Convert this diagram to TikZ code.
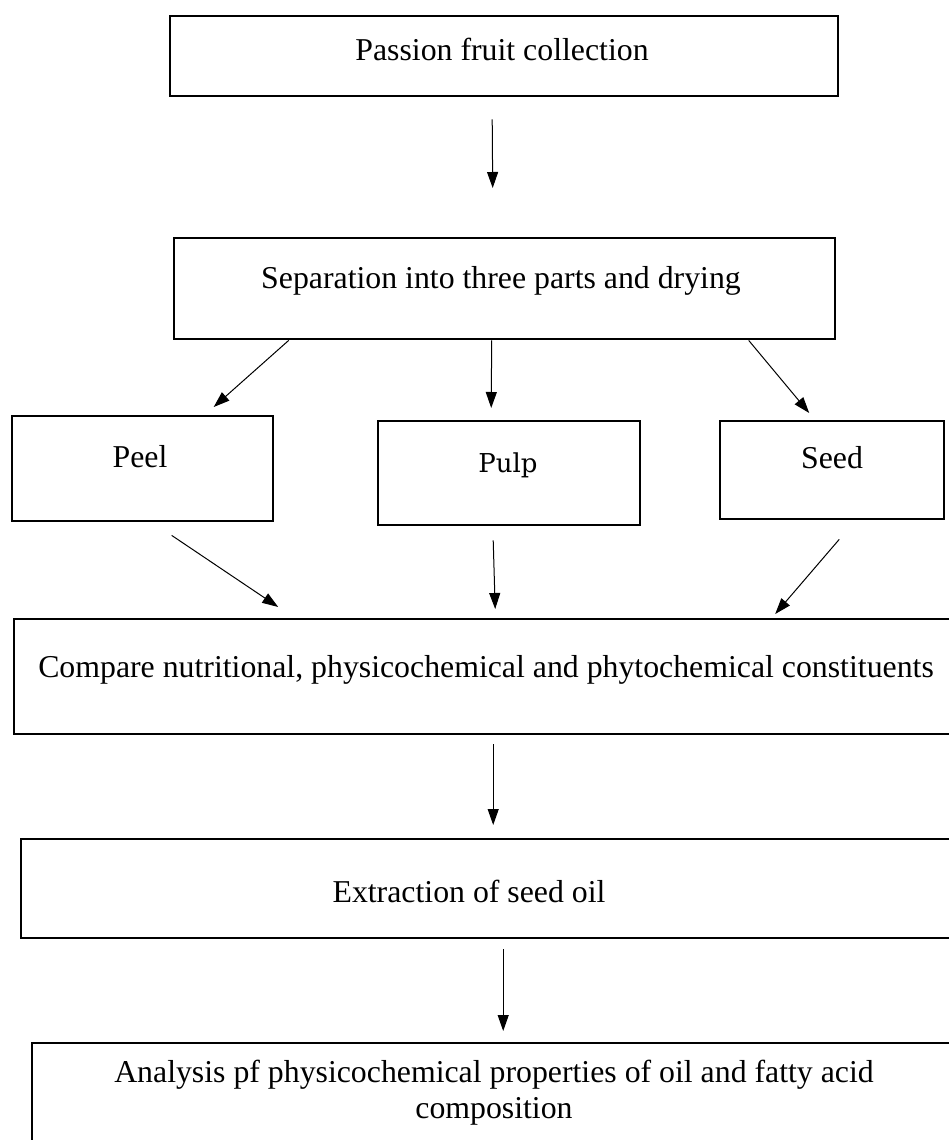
\documentclass[tikz,border=0pt]{standalone}
\usepackage{fontspec}
\setmainfont{Liberation Serif}
\newfontfamily\pulpfont{DejaVu Serif}
\usetikzlibrary{arrows.meta,calc}
\tikzset{
  box/.style={draw=black, line width=2.4pt, rectangle, inner sep=0pt, anchor=north west, fill=none},
  txt/.style={inner sep=0pt, anchor=base, font=\fontsize{31.8}{36}\selectfont},
  arr/.style={draw=black, line width=1pt, -{Triangle[length=16pt,width=11pt]}}
}
\begin{document}
\begin{tikzpicture}[x=1pt,y=-1pt]
\fill[white] (0,0) rectangle (948,1140);
\useasboundingbox (0,0) rectangle (948,1140);
% boxes
\node[box, minimum width=668pt, minimum height=80pt] (b1) at (169,15) {};
\node[box, minimum width=661pt, minimum height=101pt] (b2) at (173,237) {};
\node[box, minimum width=261pt, minimum height=105pt] (peel) at (11,415) {};
\node[box, minimum width=262pt, minimum height=104pt] (pulp) at (377,420) {};
\node[box, minimum width=224pt, minimum height=98pt] (seed) at (719,420) {};
\node[box, minimum width=1000pt, minimum height=115pt] (cmp) at (13,618) {};
\node[box, minimum width=1000pt, minimum height=99pt] (ext) at (20,838) {};
\node[box, minimum width=1000pt, minimum height=130pt] (ana) at (31,1042) {};
% texts
\node[txt] (t1) at (502,60) {Passion fruit collection};
\node[txt] (t2) at (501,288) {Separation into three parts and drying};
\node[txt] (tpeel) at (140,467) {Peel};
\node[txt, font=\pulpfont\fontsize{26}{30}\selectfont] (tpulp) at (508,472) {Pulp};
\node[txt] (tseed) at (832,468) {Seed};
\node[txt] (tcmp) at (486,677) {Compare nutritional, physicochemical and phytochemical constituents};
\node[txt] (text) at (469,902) {Extraction of seed oil};
\node[txt, anchor=north, align=center] (tana) at (494,1060) {Analysis pf physicochemical properties of oil and fatty acid\\composition};
% connectors
\draw[arr] ($(b1.south)+(-12,22)$) -- ($(b2.north)+(-12,-49)$);
\draw[arr] ($(b2.south)+(-216,0)$) -- ($(peel.north)+(71,-8)$);
\draw[arr] ($(b2.south)+(-13,0)$) -- ($(pulp.north)+(-18,-12)$);
\draw[arr] ($(b2.south)+(244,0)$) -- ($(seed.north)+(-23,-7)$);
\draw[arr] ($(peel.south)+(29,13)$) -- ($(cmp.north)+(-236,-11)$);
\draw[arr] ($(pulp.south)+(-16,14)$) -- ($(cmp.north)+(-19,-9)$);
\draw[arr] ($(seed.south)+(7,19)$) -- ($(cmp.north)+(261,-4)$);
\draw[arr] ($(cmp.south)+(-21,9)$) -- ($(ext.north)+(-28,-13)$);
\draw[arr] ($(ext.south)+(-18,10)$) -- ($(ana.north)+(-29,-11)$);
\end{tikzpicture}
\end{document}
